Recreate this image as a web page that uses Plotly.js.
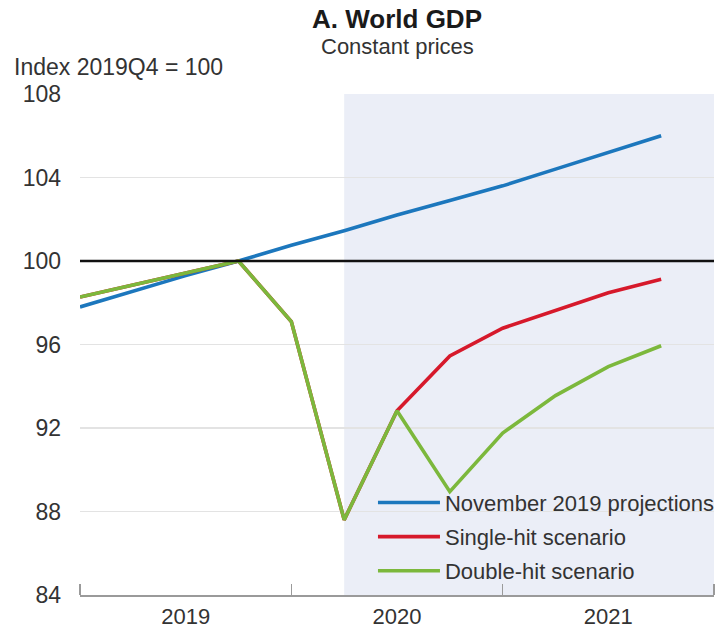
<!DOCTYPE html>
<html>
<head>
<meta charset="utf-8">
<script src="https://cdn.plot.ly/plotly-3.0.1.min.js"></script>
<style>html,body{margin:0;padding:0;background:#fff;}#chart{width:722px;height:630px;}</style>
</head>
<body>
<div id="chart"></div>
<script>
// Quarters (x categories)
const quarters = ['2019Q1','2019Q2','2019Q3','2019Q4','2020Q1','2020Q2','2020Q3','2020Q4','2021Q1','2021Q2','2021Q3','2021Q4'];
// Series values (Index 2019Q4 = 100)
const nov2019Projections = [97.8, 98.55, 99.3, 100, 100.75, 101.45, 102.2, 102.9, 103.6, 104.4, 105.2, 106.0];
const singleHitScenario  = [98.27, 98.85, 99.45, 100, 97.1, 87.6, 92.83, 95.45, 96.78, 97.65, 98.48, 99.12];
const doubleHitScenario  = [98.27, 98.85, 99.45, 100, 97.1, 87.6, 92.83, 88.95, 91.76, 93.55, 94.94, 95.94];
// Year labels, series names, y ticks
const yearLabels = ['2019','2020','2021'];
const seriesNames = ['November 2019 projections','Single-hit scenario','Double-hit scenario'];
const yTicks = [84, 88, 92, 96, 100, 104, 108];
const shadeStartQuarter = '2020Q2';

const xIdx = quarters.map((q, i) => i);
const nQ = quarters.length;
const yearStarts = yearLabels.map((y) => quarters.indexOf(y + 'Q1')).concat([nQ]);
const yearCentres = yearLabels.map((y, i) => (yearStarts[i] + yearStarts[i + 1]) / 2);
const shadeStart = quarters.indexOf(shadeStartQuarter);

const colors = ['#1c77bd', '#d6192b', '#7cb83c'];
const seriesVals = [nov2019Projections, singleHitScenario, doubleHitScenario];
const FONT = 'Liberation Sans, Arial, sans-serif';

const traces = seriesVals.map((vals, i) => ({
  type: 'scatter', mode: 'lines',
  x: xIdx, y: vals, name: seriesNames[i],
  legendgroup: 'g' + i,
  line: {color: colors[i], width: 3.6},
  hoverinfo: 'skip'
}));

const layout = {
  width: 722, height: 630,
  margin: {l: 80, r: 8, t: 94, b: 35, autoexpand: false},
  paper_bgcolor: '#ffffff', plot_bgcolor: 'rgba(0,0,0,0)',
  font: {family: FONT, color: '#333333', size: 23},
  title: {
    text: '<b>A. World GDP</b>',
    font: {family: FONT, size: 26, color: '#1a1a1a'},
    xref: 'paper', x: 0.5, xanchor: 'center',
    yref: 'container', y: 1 - 19 / 630, yanchor: 'middle'
  },
  showlegend: true,
  legend: {
    x: 0.4621, xanchor: 'left', y: 0.226, yanchor: 'top',
    bgcolor: 'rgba(0,0,0,0)', borderwidth: 0,
    font: {family: FONT, size: 22, color: '#333333'},
    itemwidth: 62, tracegroupgap: 2.5, traceorder: 'grouped'
  },
  xaxis: {
    range: [0, nQ], fixedrange: true,
    tickmode: 'array', tickvals: yearCentres, ticktext: yearLabels,
    ticks: '', showgrid: false, zeroline: false,
    showline: true, linecolor: '#9a9a9a', linewidth: 1.5,
    tickfont: {family: FONT, size: 22, color: '#333333'},
    ticklabelstandoff: 1,
    minor: {tickmode: 'array', tickvals: yearStarts, ticks: 'inside', ticklen: 11, tickwidth: 1.5, tickcolor: '#9a9a9a', showgrid: false}
  },
  yaxis: {
    range: [84, 108], fixedrange: true,
    tickmode: 'array', tickvals: yTicks,
    ticks: '', showline: false, zeroline: false,
    showgrid: true, gridcolor: '#e3e3e3', gridwidth: 1.2,
    tickfont: {family: FONT, size: 23, color: '#333333'},
    ticklabelstandoff: 18
  },
  shapes: [
    {type: 'rect', xref: 'x', yref: 'y', x0: shadeStart, x1: nQ, y0: 84, y1: 108,
     fillcolor: '#ebeef7', line: {width: 0}, layer: 'below'},
    {type: 'line', xref: 'paper', yref: 'y', x0: 0, x1: 1, y0: 100, y1: 100,
     line: {color: '#111111', width: 2.5}, layer: 'above'}
  ],
  annotations: [
    {text: 'Constant prices', xref: 'paper', x: 0.5, xanchor: 'center',
     yref: 'paper', y: 1 + (94 - 47) / 501, yanchor: 'middle', showarrow: false,
     font: {family: FONT, size: 22, color: '#333333'}},
    {text: 'Index 2019Q4 = 100', xref: 'paper', x: (12 - 80) / 634, xanchor: 'left',
     yref: 'paper', y: 1 + (94 - 67) / 501, yanchor: 'middle', showarrow: false,
     font: {family: FONT, size: 23, color: '#333333'}}
  ]
};

Plotly.newPlot('chart', traces, layout, {staticPlot: true, displayModeBar: false});
</script>
</body>
</html>
